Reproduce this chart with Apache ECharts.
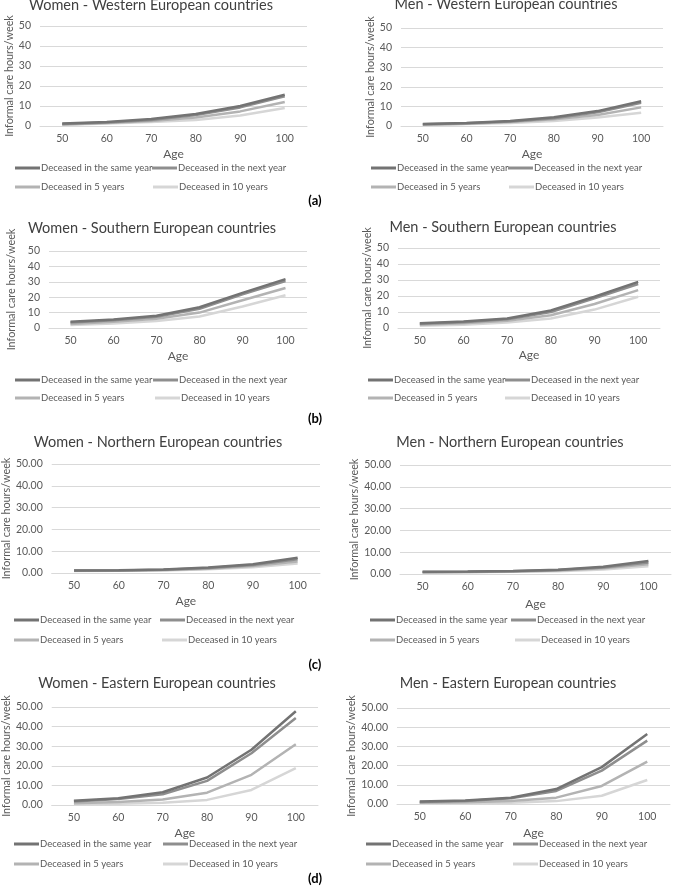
<!DOCTYPE html>
<html>
<head>
<meta charset="utf-8">
<script src="https://cdn.jsdelivr.net/npm/echarts@6/dist/echarts.min.js"></script>
<style>
html,body{margin:0;padding:0;background:#fff;}
#c{width:676px;height:886px;}
</style>
</head>
<body>
<div id="c"></div>
<script>
// ---- Data ----
const ages = ['50', '60', '70', '80', '90', '100'];
const seriesNames = ['Deceased in the same year', 'Deceased in the next year', 'Deceased in 5 years', 'Deceased in 10 years'];
const panelTitles = [
  'Women - Western European countries', 'Men - Western European countries',
  'Women - Southern European countries', 'Men - Southern European countries',
  'Women - Northern European countries', 'Men - Northern European countries',
  'Women - Eastern European countries', 'Men - Eastern European countries'
];
const panelLetters = ['(a)', '(b)', '(c)', '(d)'];
const yTickValues = [0, 10, 20, 30, 40, 50];
const yDecimals = [0, 0, 0, 0, 2, 2, 2, 2];

// rows: same year, next year, 5 years, 10 years
const womenWest = [
  [1.2, 2.0, 3.5, 6.0, 10.0, 15.6],
  [1.0, 1.8, 3.0, 5.5, 9.3, 14.8],
  [0.8, 1.5, 2.5, 4.2, 7.3, 12.0],
  [0.6, 1.2, 2.0, 3.0, 5.3, 9.0]
];
const menWest = [
  [1.0, 1.5, 2.6, 4.5, 7.6, 12.6],
  [0.9, 1.4, 2.3, 4.0, 7.0, 11.8],
  [0.7, 1.2, 2.0, 3.4, 5.6, 9.5],
  [0.5, 1.0, 1.5, 2.5, 4.3, 6.8]
];
const womenSouth = [
  [4.0, 5.5, 8.0, 13.5, 22.8, 31.7],
  [3.5, 5.0, 7.3, 12.5, 21.8, 30.5],
  [2.6, 4.0, 6.0, 10.0, 18.0, 26.0],
  [2.0, 3.0, 4.5, 7.5, 14.0, 21.3]
];
const menSouth = [
  [3.0, 4.0, 6.0, 11.0, 19.5, 28.8],
  [2.6, 3.6, 5.5, 10.0, 18.5, 27.5],
  [2.0, 3.0, 4.5, 8.0, 15.0, 23.7],
  [1.4, 2.0, 3.5, 6.0, 11.5, 19.5]
];
const womenNorth = [
  [1.2, 1.3, 1.6, 2.5, 4.0, 7.0],
  [1.1, 1.2, 1.5, 2.3, 3.7, 6.3],
  [1.0, 1.1, 1.4, 2.0, 3.2, 5.3],
  [0.9, 1.0, 1.2, 1.7, 2.6, 4.3]
];
const menNorth = [
  [1.0, 1.1, 1.4, 2.0, 3.3, 6.0],
  [0.9, 1.0, 1.3, 1.8, 3.0, 5.3],
  [0.8, 0.9, 1.2, 1.6, 2.6, 4.5],
  [0.7, 0.8, 1.0, 1.3, 2.1, 3.5]
];
const womenEast = [
  [2.2, 3.5, 6.5, 14.0, 28.2, 47.8],
  [1.8, 3.0, 5.5, 12.3, 26.4, 44.4],
  [0.9, 1.5, 2.8, 6.3, 15.4, 31.0],
  [0.5, 0.7, 1.2, 2.6, 7.7, 18.8]
];
const menEast = [
  [1.3, 1.8, 3.3, 7.8, 19.2, 36.4],
  [1.1, 1.6, 3.0, 6.8, 17.4, 33.0],
  [0.7, 0.9, 1.5, 3.3, 9.4, 22.1],
  [0.4, 0.5, 0.7, 1.5, 4.3, 12.5]
];
const panelData = [womenWest, menWest, womenSouth, menSouth, womenNorth, menNorth, womenEast, menEast];

// ---- Layout / style ----
const lineColors = ['#737373', '#8e8e8e', '#b3b3b3', '#d6d6d6'];
const grids = [
  {left: 40, top: 26, width: 267, height: 100},
  {left: 401, top: 28, width: 262, height: 98},
  {left: 49, top: 251, width: 258, height: 77},
  {left: 398, top: 248, width: 262, height: 80},
  {left: 49, top: 464, width: 271, height: 109},
  {left: 400, top: 465, width: 271, height: 109},
  {left: 50, top: 707, width: 268, height: 98},
  {left: 397, top: 708, width: 273, height: 96}
];
const titlePos = [[151, -2], [506, -3], [152, 221], [503, 220], [158, 435], [510, 435], [157, 676], [508, 676]];
const yNameGap = [23, 24, 32, 24, 37, 39, 38, 38];
const xNameGap = [22, 22, 22, 21, 22, 24, 22, 23];
const legendRows = [[170, 189], [170, 189], [382, 400], [382, 400], [622, 642], [622, 642], [846, 866], [846, 866]];
const legendCols = [[15, 152, 15, 153], [371, 508, 371, 509], [15, 153, 15, 155], [368, 505, 368, 505],
  [14, 160, 14, 162], [370, 511, 370, 515], [14, 163, 14, 163], [366, 513, 366, 513]];
const letterPos = [[315, 201], [315, 419], [315, 665], [315, 879]];

const FONT = 'Lato, "Liberation Sans", Arial, sans-serif';
const textCol = '#595959';

const option = {
  animation: false,
  backgroundColor: '#fff',
  textStyle: {fontFamily: FONT},
  title: [], grid: [], xAxis: [], yAxis: [], series: [], legend: [], graphic: []
};

for (let p = 0; p < 8; p++) {
  const g = grids[p];
  option.grid.push({left: g.left, top: g.top, width: g.width, height: g.height, containLabel: false});
  option.title.push({
    text: panelTitles[p], left: titlePos[p][0], top: titlePos[p][1], textAlign: 'center', padding: 0,
    textStyle: {fontFamily: FONT, fontSize: 14.5, fontWeight: 'normal', color: '#404040'}
  });
  option.xAxis.push({
    type: 'category', gridIndex: p, data: ages, boundaryGap: true,
    name: 'Age', nameLocation: 'middle', nameGap: xNameGap[p],
    nameTextStyle: {fontFamily: FONT, fontSize: 12, color: textCol},
    axisLine: {show: true, lineStyle: {color: '#d9d9d9', width: 1}},
    axisTick: {show: false},
    axisLabel: {fontFamily: FONT, fontSize: 10.5, color: textCol, margin: 7}
  });
  const dec = yDecimals[p];
  option.yAxis.push({
    type: 'value', gridIndex: p, min: yTickValues[0], max: yTickValues[yTickValues.length - 1],
    interval: yTickValues[1] - yTickValues[0],
    name: 'Informal care hours/week', nameLocation: 'middle', nameGap: yNameGap[p],
    nameTextStyle: {fontFamily: FONT, fontSize: 10.8, color: textCol},
    axisLine: {show: false}, axisTick: {show: false},
    splitLine: {show: true, lineStyle: {color: '#d9d9d9', width: 1}},
    axisLabel: {fontFamily: FONT, fontSize: 10.5, color: textCol, margin: 9,
      formatter: v => v.toFixed(dec)}
  });
  for (let s = 0; s < 4; s++) {
    option.series.push({
      type: 'line', name: seriesNames[s], xAxisIndex: p, yAxisIndex: p,
      data: panelData[p][s], symbol: 'none', smooth: false, z: 10 - s,
      lineStyle: {color: lineColors[s], width: 2.5},
      itemStyle: {color: lineColors[s]}
    });
    const row = s < 2 ? 0 : 1;
    option.legend.push({
      data: [seriesNames[s]], left: legendCols[p][s], top: legendRows[p][row] - 7,
      padding: 0, icon: 'rect', itemWidth: 25, itemHeight: 3, itemGap: 0,
      selectedMode: false,
      textStyle: {fontFamily: FONT, fontSize: 9.5, color: textCol, padding: [0, 0, 0, -4]}
    });
  }
}
for (let i = 0; i < 4; i++) {
  option.graphic.push({
    type: 'text', x: letterPos[i][0], y: letterPos[i][1],
    style: {text: panelLetters[i], font: 'bold 13px ' + FONT, fill: '#000', textAlign: 'center', textVerticalAlign: 'middle'}
  });
}

const chart = echarts.init(document.getElementById('c'), null, {renderer: 'canvas'});
chart.setOption(option);
</script>
</body>
</html>
